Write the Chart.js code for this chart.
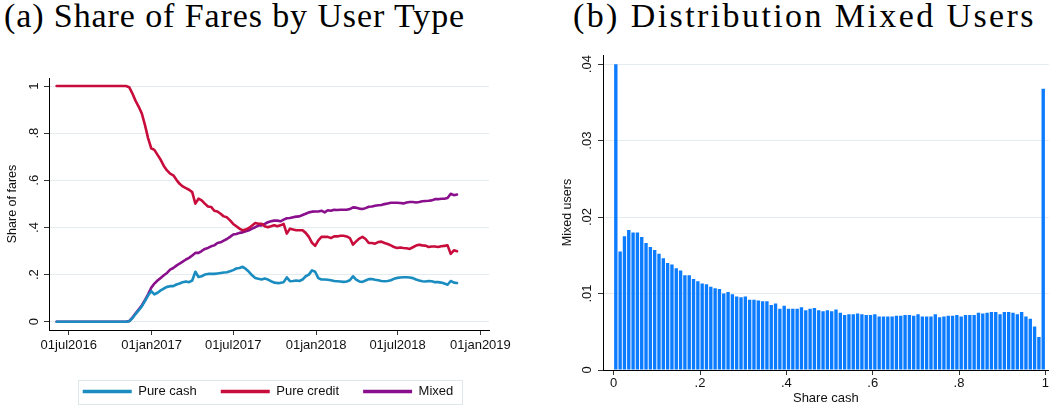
<!DOCTYPE html>
<html>
<head>
<meta charset="utf-8">
<script src="https://cdn.jsdelivr.net/npm/chart.js@4.4.0/dist/chart.umd.min.js"></script>
<style>
  body { margin: 0; width: 1050px; height: 408px; background: #fff; position: relative; overflow: hidden; }
  .title { position: absolute; top: -1px; font-family: "Liberation Serif", "Times New Roman", serif; font-size: 34px; line-height: 34px; white-space: nowrap; color: #000; }
  #wrapA { position: absolute; left: 0; top: 60px; width: 540px; height: 348px; }
  #wrapB { position: absolute; left: 530px; top: 45px; width: 520px; height: 363px; }
</style>
</head>
<body>
<div class="title" style="left:4px; letter-spacing:0.9px">(a) Share of Fares by User Type</div>
<div class="title" style="left:573px; letter-spacing:2.4px">(b) Distribution Mixed Users</div>
<div id="wrapA"><canvas id="faresChart"></canvas></div>
<div id="wrapB"><canvas id="mixedChart"></canvas></div>
<script>
// ---- data: weekly share of fares by user type (first week = 04jun2016)
const firstWeek = '2016-06-04';
const pureCash = [
  0,0,0,0,0,0,0,0,0,0,0,0,0,0,0,0,0,0,0,0,0,0,0,
  0.002,0.015,0.032,0.048,0.065,0.088,0.111,0.130,0.116,0.123,0.133,0.141,0.148,0.151,0.151,0.158,
  0.162,0.168,0.171,0.168,0.175,0.212,0.190,0.193,0.200,0.203,0.203,0.203,0.205,0.207,0.209,0.210,
  0.214,0.219,0.226,0.228,0.233,0.224,0.212,0.197,0.186,0.182,0.179,0.183,0.179,0.172,0.166,0.164,
  0.165,0.168,0.188,0.172,0.173,0.175,0.173,0.179,0.193,0.200,0.218,0.212,0.185,0.179,0.179,0.178,
  0.176,0.173,0.172,0.171,0.169,0.171,0.176,0.193,0.179,0.171,0.169,0.175,0.181,0.181,0.178,0.176,
  0.173,0.172,0.173,0.176,0.182,0.186,0.188,0.189,0.189,0.188,0.185,0.179,0.175,0.172,0.171,0.173,
  0.172,0.168,0.168,0.166,0.162,0.157,0.173,0.166,0.164
];
const pureCredit = [
  1,1,1,1,1,1,1,1,1,1,1,1,1,1,1,1,1,1,1,1,1,1,1,
  0.995,0.969,0.938,0.913,0.884,0.835,0.779,0.736,0.729,0.708,0.687,0.661,0.642,0.628,0.621,0.602,
  0.585,0.574,0.567,0.560,0.550,0.501,0.522,0.515,0.501,0.489,0.487,0.471,0.468,0.458,0.447,0.443,
  0.430,0.415,0.405,0.395,0.388,0.391,0.398,0.408,0.419,0.416,0.416,0.405,0.401,0.405,0.409,0.405,
  0.409,0.415,0.374,0.395,0.391,0.388,0.388,0.388,0.377,0.360,0.335,0.322,0.345,0.360,0.360,0.360,
  0.355,0.362,0.362,0.365,0.365,0.362,0.355,0.327,0.341,0.353,0.360,0.351,0.334,0.334,0.331,0.338,
  0.340,0.334,0.330,0.324,0.317,0.313,0.315,0.313,0.312,0.309,0.316,0.323,0.327,0.324,0.323,0.317,
  0.319,0.319,0.317,0.320,0.322,0.324,0.288,0.303,0.299
];
const mixed = [
  0,0,0,0,0,0,0,0,0,0,0,0,0,0,0,0,0,0,0,0,0,0,0,
  0.003,0.017,0.035,0.052,0.069,0.092,0.116,0.144,0.162,0.175,0.186,0.197,0.207,0.221,0.228,0.238,
  0.247,0.255,0.264,0.271,0.281,0.292,0.292,0.300,0.309,0.313,0.320,0.324,0.334,0.337,0.344,0.351,
  0.360,0.370,0.372,0.377,0.379,0.384,0.388,0.395,0.401,0.408,0.409,0.415,0.422,0.426,0.429,0.429,
  0.426,0.433,0.439,0.440,0.443,0.446,0.447,0.453,0.458,0.464,0.467,0.468,0.468,0.471,0.464,0.473,
  0.471,0.475,0.474,0.475,0.475,0.475,0.478,0.485,0.484,0.480,0.478,0.482,0.488,0.489,0.492,0.494,
  0.495,0.499,0.502,0.505,0.505,0.505,0.504,0.502,0.506,0.508,0.508,0.506,0.508,0.511,0.512,0.513,
  0.515,0.520,0.520,0.522,0.522,0.525,0.543,0.537,0.540
];
const dateTicks = ['2016-07-01', '2017-01-01', '2017-07-01', '2018-01-01', '2018-07-01', '2019-01-01'];
const shareTicks = [0, 0.2, 0.4, 0.6, 0.8, 1];

// ---- data: histogram of cash share among mixed users (bins of width .01)
const binWidth = 0.01;
const mixedDensity = [
  0.0400,0.0155,0.0175,0.0183,0.0180,0.0180,0.0174,0.0166,0.0161,0.0157,
  0.0152,0.0146,0.0140,0.0138,0.0133,0.0130,0.0124,0.0124,0.0119,0.0116,
  0.0113,0.0112,0.0109,0.0107,0.0106,0.0100,0.0102,0.0099,0.0096,0.0095,
  0.0096,0.0092,0.0092,0.0091,0.0090,0.0090,0.0085,0.0087,0.0080,0.0084,
  0.0080,0.0080,0.0080,0.0082,0.0078,0.0080,0.0081,0.0078,0.0077,0.0078,
  0.0077,0.0079,0.0075,0.0072,0.0073,0.0073,0.0074,0.0073,0.0072,0.0072,
  0.0073,0.0070,0.0070,0.0070,0.0070,0.0071,0.0071,0.0072,0.0072,0.0071,
  0.0073,0.0070,0.0070,0.0070,0.0073,0.0069,0.0070,0.0071,0.0071,0.0072,
  0.0070,0.0072,0.0072,0.0072,0.0075,0.0074,0.0075,0.0076,0.0076,0.0073,
  0.0076,0.0076,0.0075,0.0073,0.0076,0.0070,0.0067,0.0057,0.0043,0.0368
];
const cashTicks = [0, 0.2, 0.4, 0.6, 0.8, 1];
const densityTicks = [0, 0.01, 0.02, 0.03, 0.04];

// ---- helpers
const MONTHS = ['jan','feb','mar','apr','may','jun','jul','aug','sep','oct','nov','dec'];
function stataDay(iso) { return Math.round(Date.parse(iso + 'T00:00:00Z') / 86400000) + 3653; }
function fmtDay(d) {
  const dt = new Date((d - 3653) * 86400000);
  return String(dt.getUTCDate()).padStart(2, '0') + MONTHS[dt.getUTCMonth()] + dt.getUTCFullYear();
}
function fmtShare(v) {
  if (v === 0) return '0';
  if (v === 1) return '1';
  return String(+v.toFixed(2)).replace(/^0/, '');
}

Chart.defaults.font.family = '"Liberation Sans", Arial, sans-serif';
Chart.defaults.font.size = 13;
Chart.defaults.color = '#111';
Chart.defaults.animation = false;

const GRID = '#e4ecef';
const AXIS = '#000';

const weekDays = pureCash.map((_, i) => stataDay(firstWeek) + 7 * i);
const toXY = arr => arr.map((v, i) => ({ x: weekDays[i], y: v }));

// legend sits centred under the whole panel, with a thin frame round it
const legendFrame = {
  id: 'legendFrame',
  afterLayout(chart) {
    if (!chart.legend) return;
    chart.legend.left += 23;
    chart.legend.right += 23;
  },
  afterDraw(chart) {
    const boxes = chart.legend && chart.legend.legendHitBoxes;
    if (!boxes || !boxes.length) return;
    const left = Math.min(...boxes.map(b => b.left)) - 5;
    const right = Math.max(...boxes.map(b => b.left + b.width)) + 8;
    const mid = boxes[0].top + boxes[0].height / 2;
    const ctx = chart.ctx;
    ctx.save();
    ctx.strokeStyle = '#dfe7ea';
    ctx.lineWidth = 1;
    ctx.strokeRect(Math.round(left) + 0.5, Math.round(mid - 12) + 0.5, Math.round(right - left), 24);
    ctx.restore();
  }
};

// (a) Share of fares
new Chart(document.getElementById('faresChart'), {
  type: 'line',
  data: {
    datasets: [
      { label: 'Pure cash', data: toXY(pureCash), borderColor: '#1a8cc0', backgroundColor: '#1a8cc0' },
      { label: 'Pure credit', data: toXY(pureCredit), borderColor: '#c80d3c', backgroundColor: '#c80d3c' },
      { label: 'Mixed', data: toXY(mixed), borderColor: '#8a0f8c', backgroundColor: '#8a0f8c' }
    ]
  },
  options: {
    responsive: true,
    maintainAspectRatio: false,
    layout: { padding: { left: 1, top: 18, right: 51, bottom: 0 } },
    elements: {
      line: { borderWidth: 2.6, tension: 0, borderJoinStyle: 'round', borderCapStyle: 'round' },
      point: { radius: 0 }
    },
    plugins: {
      tooltip: { enabled: false },
      legend: {
        position: 'bottom',
        labels: {
          boxWidth: 49,
          boxHeight: 3.5,
          padding: 24,
          color: '#111',
          generateLabels: c => Chart.defaults.plugins.legend.labels.generateLabels(c).map(l => ({ ...l, lineWidth: 0 }))
        }
      }
    },
    scales: {
      x: {
        type: 'linear',
        min: 20592,
        max: 21569,
        afterBuildTicks: s => { s.ticks = dateTicks.map(d => ({ value: stataDay(d) })); },
        afterFit: s => { s.height = 31; },
        ticks: { autoSkip: false, maxRotation: 0, padding: 3, callback: v => fmtDay(v) },
        grid: { drawOnChartArea: false, drawTicks: true, tickLength: 5, tickColor: '#333' },
        border: { color: AXIS, width: 1 }
      },
      y: {
        min: -0.035,
        max: 1.034,
        afterBuildTicks: s => { s.ticks = shareTicks.map(v => ({ value: v })); },
        afterFit: s => { s.width = 48; },
        title: { display: true, text: 'Share of fares', font: { size: 12.5 }, color: '#111' },
        ticks: { minRotation: 90, maxRotation: 90, crossAlign: 'center', padding: 4, callback: v => fmtShare(v) },
        grid: { color: GRID, lineWidth: 1, tickLength: 5, tickColor: '#333' },
        border: { color: AXIS, width: 1 }
      }
    }
  },
  plugins: [legendFrame]
});

// (b) Distribution of mixed users
const binCenters = mixedDensity.map((_, i) => +(binWidth * (i + 0.5)).toFixed(3));
new Chart(document.getElementById('mixedChart'), {
  type: 'bar',
  data: {
    datasets: [{
      label: 'Mixed users',
      data: mixedDensity.map((v, i) => ({ x: binCenters[i], y: v })),
      backgroundColor: '#0b7bff',
      borderWidth: 0,
      barPercentage: 0.78,
      categoryPercentage: 1
    }]
  },
  options: {
    responsive: true,
    maintainAspectRatio: false,
    layout: { padding: { left: 26, top: 10, right: 0, bottom: 0 } },
    plugins: { legend: { display: false }, tooltip: { enabled: false } },
    scales: {
      x: {
        type: 'linear',
        offset: false,
        min: -0.0247,
        max: 1.0077,
        afterBuildTicks: s => { s.ticks = cashTicks.map(v => ({ value: v })); },
        afterFit: s => { s.height = 38; },
        title: { display: true, text: 'Share cash', color: '#111', padding: { top: 0, bottom: 2 } },
        ticks: { autoSkip: false, maxRotation: 0, padding: 1, callback: v => fmtShare(v) },
        grid: { offset: false, drawOnChartArea: false, drawTicks: true, tickLength: 5, tickColor: '#333' },
        border: { color: AXIS, width: 1 }
      },
      y: {
        min: 0,
        max: 0.0412,
        afterBuildTicks: s => { s.ticks = densityTicks.map(v => ({ value: v })); },
        afterFit: s => { s.width = 47; },
        title: { display: true, text: 'Mixed users', font: { size: 12.5 }, color: '#111' },
        ticks: { minRotation: 90, maxRotation: 90, crossAlign: 'center', padding: 2, callback: v => fmtShare(v) },
        grid: { color: GRID, lineWidth: 1, tickLength: 5, tickColor: '#333' },
        border: { color: AXIS, width: 1 }
      }
    }
  }
});
</script>
</body>
</html>
